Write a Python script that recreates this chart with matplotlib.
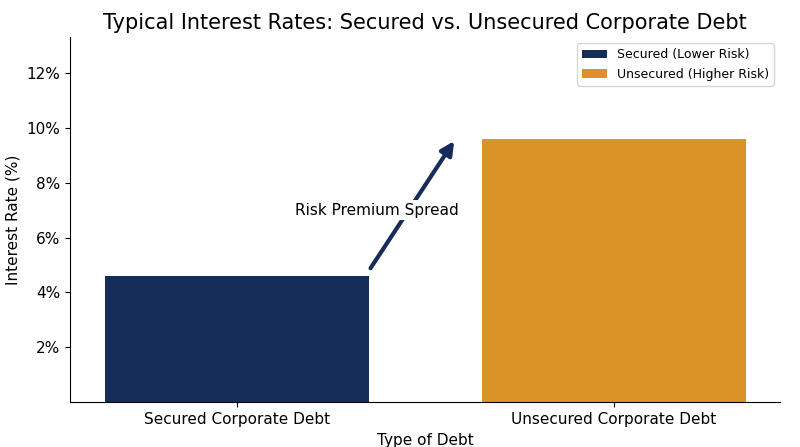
import matplotlib
matplotlib.use("Agg")
import matplotlib.pyplot as plt
from matplotlib.ticker import FuncFormatter

categories = ["Secured Corporate Debt", "Unsecured Corporate Debt"]
rates = [4.6, 9.6]
labels = ["Secured (Lower Risk)", "Unsecured (Higher Risk)"]
colors = ["#162d5a", "#db9327"]

fig, ax = plt.subplots(figsize=(8, 4.47), dpi=100)
fig.subplots_adjust(left=0.0875, right=0.975, top=0.917, bottom=0.1)
bars = ax.bar(categories, rates, width=0.7, color=colors, label=labels)
ax.set_xlim(-0.443, 1.44)
ax.set_ylim(0, 13.3)
ax.set_yticks([2, 4, 6, 8, 10, 12])
ax.yaxis.set_major_formatter(FuncFormatter(lambda v, p: f"{v:.0f}%"))
ax.spines["top"].set_visible(False)
ax.spines["right"].set_visible(False)
ax.tick_params(labelsize=11)
ax.set_title("Typical Interest Rates: Secured vs. Unsecured Corporate Debt", fontsize=15)
ax.set_xlabel("Type of Debt", fontsize=11)
ax.set_ylabel("Interest Rate (%)", fontsize=11)
ax.legend(loc="upper right", fontsize=9)

ax.annotate("", xy=(0.58, 9.6), xytext=(0.35, 4.8),
            arrowprops=dict(arrowstyle="-|>", color="#162d5a", lw=3, mutation_scale=20))
ax.text(0.37, 7.0, "Risk Premium Spread", ha="center", va="center", fontsize=11,
        bbox=dict(facecolor="white", edgecolor="none", pad=2))
fig.savefig("out.png", dpi=100)
